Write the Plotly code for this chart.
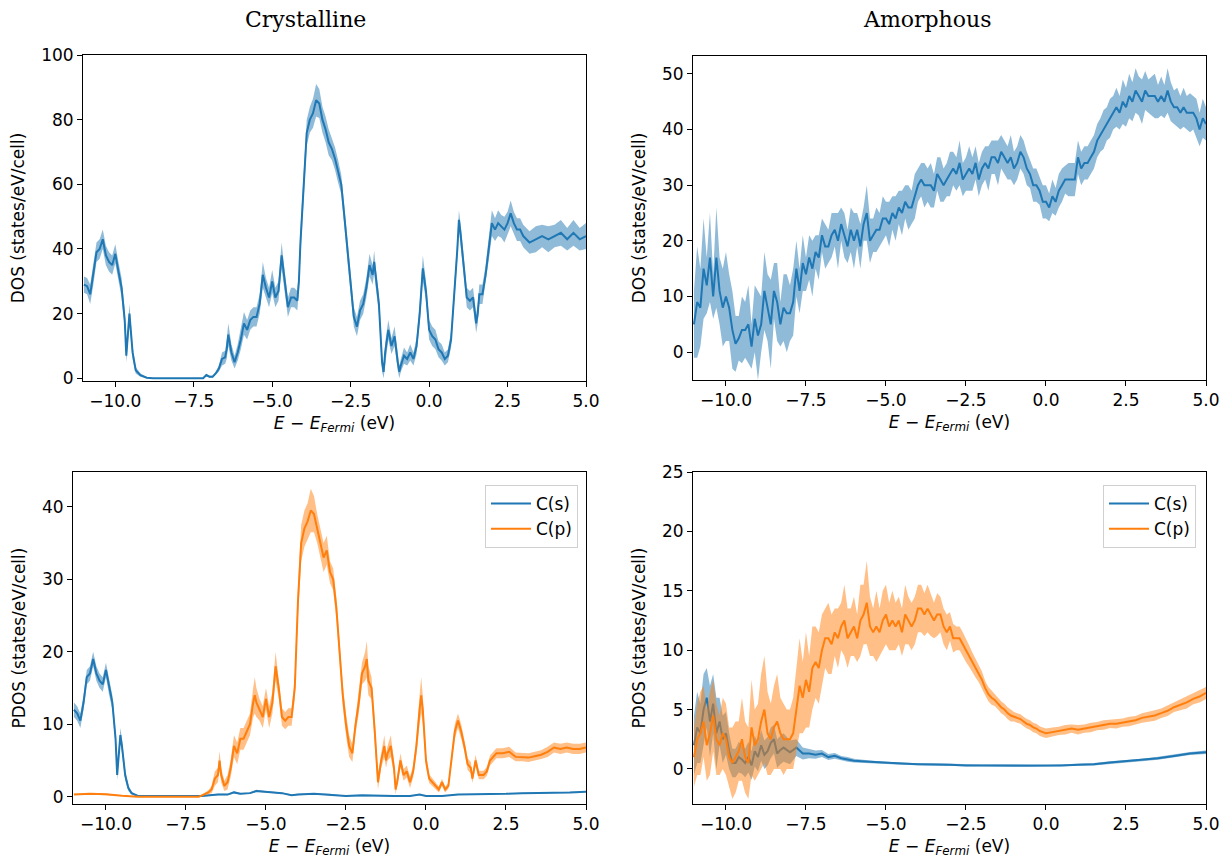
import plotly.graph_objects as go

# ---------------- data ----------------
# Crystalline total DOS
cry_x = [-11.0,-10.9,-10.8,-10.7,-10.6,-10.5,-10.4,-10.3,-10.2,-10.1,
         -10.0,-9.9,-9.8,-9.7,-9.65,-9.55,-9.45,-9.35,-9.2,-9.0,
         -8.8,-7.2,-7.1,-7.0,-6.9,-6.8,-6.7,-6.6,-6.5,-6.45,
         -6.4,-6.3,-6.2,-6.1,-6.0,-5.9,-5.8,-5.7,-5.6,-5.5,
         -5.4,-5.3,-5.2,-5.1,-5.0,-4.9,-4.8,-4.7,-4.6,-4.5,
         -4.4,-4.3,-4.2,-4.15,-4.1,-4.0,-3.9,-3.8,-3.7,-3.6,
         -3.5,-3.4,-3.3,-3.2,-3.1,-3.0,-2.9,-2.8,-2.7,-2.6,
         -2.5,-2.4,-2.3,-2.2,-2.1,-2.0,-1.9,-1.8,-1.75,-1.7,
         -1.6,-1.5,-1.45,-1.4,-1.3,-1.2,-1.1,-1.0,-0.95,-0.9,
         -0.8,-0.7,-0.6,-0.5,-0.4,-0.3,-0.2,-0.1,0.0,0.1,
         0.2,0.3,0.4,0.5,0.6,0.7,0.8,0.9,0.95,1.0,
         1.1,1.2,1.3,1.4,1.5,1.55,1.6,1.7,1.8,1.9,
         2.0,2.1,2.2,2.3,2.4,2.5,2.6,2.7,2.8,2.9,
         3.0,3.2,3.4,3.6,3.8,4.0,4.2,4.4,4.6,4.8,
         5.0]
cry_dos = [29,28.5,26,32,39,40,43,38,36,35,
           38.5,33,28,18,7,20,8,2.5,1,0.2,
           0,0,1,0.5,0.5,1.5,3,6,6.5,9,
           13.5,8,5,8,12,17,15,18,19,19,
           23,32,28,25,30,25,27,38,30,22,
           25,25,24,30,42,60,76,80,82,86,
           85,80,77,73,71,68,64,60,50,39,
           28,19,16,21,23,28,35,32,36,31,
           23,5,2,8,15,10,13,5,2,4,
           7,6,8,6,10,20,34,27,15,13,
           12,9,8,6,7,12,25,40,49,45,
           35,25,24,25,17,20,26,26,32,40,
           48,46,48,47,46,48,51,48,46,46,
           44,42,43,44,43,44,45,43,45,43,
           44]
cry_dos_err = [2.5,2.5,3,3,3,3,3,3,3,3,
               3,3,3,3,2,3,2,1,0.5,0.2,
               0,0,0.3,0.3,0.3,0.5,1,2,2,3,
               3.5,2.5,2,2.5,3,3.5,3,3,3,3,
               3,4,3,3,3.5,3,3,4,3,3,
               3,3,3,3,4,4,4,4,4.5,5,
               4.5,4,4,4,3.5,3.5,3.5,3,3,3,
               3,3,3,3,3,3,3.5,3,3.5,3,
               3,3,2,3,3,2.5,3,2.5,2,2,
               2.5,2,2.5,2,2.5,3,4,3,3,3,
               3,2.5,2.5,2,2,2.5,3,3,3,3,
               3,3,3,3,3,3,3,3,3,3.5,
               4,3.5,4,3.5,4,3.5,4,3.5,3.5,3.5,
               3.5,3.5,4,3.5,4,3.5,4,3.5,4,3.5,
               4]

# Amorphous total DOS (E from -11.0 to 5.0, step 0.1)
amo_dos = [5,9,8,15,12,17,10,17,11,8,
           10,8,4,1.5,2.5,4,4,5,1,6,
           3,5,11,8,5,11,9,5,8,7,
           7,9,15,11,16,14,17,15,18,17,
           21,19,19,21,22,20,23,21,19,22,
           20,22,19,23,25,20,21,22,22,24,
           24,23,25,24,26,25,27,26,26,28,
           30,31,30,30,30,29,32,31,30,31,
           32,33,32,34,31,32,33,32,34,31,
           33,34,33,35,35,34,36,35,34,35,
           33,34,36,35,33,32,30,30,29,27,
           27,26,28,27,29,30,31,31,31,31,
           35,33,34,34,35,36,38,39,40,41,
           42,43,44,43,45,44,46,45,47,46,
           45,47,46,46,46,45,46,45,47,45,
           44,44,43,44,43,43,43,42,40,42,
           41]
amo_dos_err = [6,10,7,9,5,8,4,9,6,7,
               8,6,7,5,4,6,5,7,4,6,
               8,5,7,6,8,5,7,4,6,7,
               5,6,5,4,5,3,4,5,3,4,
               3,4,3,4,3,5,3,4,3,4,
               5,3,4,3,5,4,3,4,3,4,
               3,4,3,4,3,4,3,4,3,4,
               3,3,4,3,4,3,3,4,3,3,
               4,3,3,4,3,3,4,3,3,3,
               3,3,4,3,3,4,3,3,3,4,
               3,3,3,3,3,2.5,3,3,2.5,3,
               3,2.5,3,2.5,3,3,2.5,3,3,3,
               3,3,3,3,3,3,3,3,3.5,3,
               3.5,3,3.5,3,4,3.5,4,3.5,4,3.5,
               4,3.5,3,3.5,4,3,3.5,3,4,3.5,
               3,3.5,3,3.5,3,3.5,3,3.5,3,3.5,
               3]

# Crystalline PDOS, C(s)
cry_s_x = [-11.0,-10.9,-10.8,-10.7,-10.6,-10.5,-10.4,-10.3,-10.2,-10.1,
           -10.0,-9.9,-9.8,-9.7,-9.65,-9.55,-9.5,-9.4,-9.3,-9.2,
           -9.0,-7.0,-6.8,-6.5,-6.2,-6.0,-5.8,-5.5,-5.3,-5.0,
           -4.8,-4.5,-4.2,-4.0,-3.5,-3.0,-2.5,-2.0,-1.5,-1.0,
           -0.5,-0.2,0.0,0.5,1.0,1.5,2.0,2.5,3.0,3.5,
           4.0,4.5,5.0]
cry_s = [12,11.5,10.5,13,16.5,17,19,17,16,15.5,
         17.5,15,13,8,3,8.5,7,3,1.2,0.5,
         0.1,0.1,0.2,0.3,0.3,0.6,0.4,0.5,0.8,0.7,
         0.6,0.5,0.2,0.3,0.4,0.3,0.1,0.2,0.1,0.1,
         0.1,0.3,0.1,0.1,0.3,0.3,0.4,0.4,0.5,0.5,
         0.6,0.6,0.7]
cry_s_err = [1,1,1,1,1,1,1,1,1,1,
             1,1,1,1,0.7,1,1,0.7,0.4,0.2,
             0.05,0.05,0.1,0.1,0.1,0.15,0.1,0.1,0.15,0.1,
             0.1,0.1,0.1,0.1,0.1,0.1,0.05,0.05,0.05,0.05,
             0.05,0.05,0.05,0.05,0.05,0.05,0.05,0.05,0.05,0.05,
             0.05,0.05,0.05]

# Crystalline PDOS, C(p)
cry_p_x = [-11.0,-10.5,-10.0,-9.7,-9.5,-9.0,-7.1,-7.0,-6.9,-6.8,
           -6.7,-6.6,-6.5,-6.45,-6.4,-6.3,-6.2,-6.1,-6.0,-5.9,
           -5.8,-5.7,-5.6,-5.5,-5.4,-5.35,-5.3,-5.2,-5.1,-5.0,
           -4.9,-4.8,-4.7,-4.6,-4.5,-4.4,-4.3,-4.2,-4.1,-4.0,
           -3.9,-3.8,-3.7,-3.6,-3.5,-3.4,-3.3,-3.2,-3.1,-3.0,
           -2.9,-2.8,-2.7,-2.6,-2.5,-2.4,-2.3,-2.2,-2.1,-2.0,
           -1.9,-1.85,-1.8,-1.7,-1.6,-1.5,-1.4,-1.3,-1.25,-1.2,
           -1.1,-1.0,-0.95,-0.9,-0.8,-0.7,-0.6,-0.5,-0.4,-0.3,
           -0.2,-0.15,-0.1,0.0,0.1,0.2,0.3,0.4,0.5,0.6,
           0.7,0.8,0.9,1.0,1.1,1.2,1.3,1.4,1.45,1.55,
           1.65,1.8,1.9,2.0,2.2,2.4,2.6,2.8,3.0,3.2,
           3.4,3.6,3.8,4.0,4.2,4.4,4.6,4.8,5.0]
cry_p = [0.3,0.4,0.35,0.2,0.15,0,0,0.2,0.4,0.6,
         1.0,2.5,3,5,3,1.5,2,4,7,6,
         8,8,9,10,13,14,13,12,11,13.5,
         11,13,18,15,11,10.5,11,11,15,27,
         35,37,38,39.5,39,37,35,33,34,31,
         30,26,20,14,10,7,6,10,13,17,
         18,19,16,15,9,2,5,7,5,6,
         7,4,1,2,5,3,3.5,2,3.5,7,
         12,14,12,5,2.5,2,1.5,1,2,1,
         1.5,5,9,10.5,9,7,4.5,4,2.5,5,
         3,3,3.5,5,6,6,6.2,5.5,5.5,5.4,
         5.6,5.8,6.2,6.8,6.6,6.8,6.6,6.6,6.8]
cry_p_err = [0.1,0.1,0.1,0.05,0.05,0,0,0.1,0.2,0.3,
             0.5,1,1,1.3,1,0.7,1,1.2,1.5,1.5,
             1.5,1.5,1.5,1.5,2,2.5,2,1.5,1.5,1.5,
             1.5,1.5,2,1.5,1.2,1.2,1.2,1.2,1.5,2,
             2.5,2.5,2.5,3,2.5,2,2,2,2,1.5,
             1.5,1.5,1.5,1.5,1.5,1.5,1.2,1.2,1.5,1.5,
             2,2.5,2,1.5,1.5,1,1,1.5,1,1,
             1.5,1,0.7,0.8,1,0.8,0.8,0.8,0.8,1.2,
             2,2.5,2,1,0.6,0.5,0.4,0.4,0.5,0.4,
             0.4,0.8,1,1,1,0.8,0.8,0.8,0.6,0.8,
             0.6,0.6,0.6,0.7,0.7,0.7,0.7,0.6,0.6,0.6,
             0.6,0.6,0.7,0.7,0.7,0.7,0.7,0.7,0.7]

# Amorphous PDOS, C(s)
amo_s_x = [-11.0,-10.9,-10.8,-10.7,-10.6,-10.5,-10.4,-10.3,-10.2,-10.1,
           -10.0,-9.9,-9.8,-9.7,-9.6,-9.5,-9.4,-9.3,-9.2,-9.1,
           -9.0,-8.9,-8.8,-8.7,-8.6,-8.5,-8.4,-8.3,-8.2,-8.0,
           -7.8,-7.6,-7.4,-7.2,-7.0,-6.8,-6.6,-6.4,-6.2,-6.0,
           -5.5,-5.0,-4.5,-4.0,-3.5,-3.0,-2.5,-2.0,-1.5,-1.0,
           -0.5,0.0,0.5,1.0,1.5,2.0,2.5,3.0,3.5,4.0,
           4.5,5.0]
amo_s = [2,3.5,3,5,6,4,5.5,3,4,2.5,
         3,1.5,0.5,0.5,1,0.8,0.5,1,0.3,1.5,
         1,2,1.2,1.5,2.2,2.5,1.3,1.6,1.8,1.4,
         1.8,1.3,1.3,1.2,1.3,1.0,1.1,0.9,0.8,0.7,
         0.6,0.5,0.45,0.4,0.4,0.35,0.3,0.3,0.3,0.25,
         0.25,0.25,0.3,0.35,0.4,0.55,0.65,0.75,0.9,1.1,
         1.3,1.4]
amo_s_err = [2.5,3,2.5,3,2.5,3,2.5,3,2,2,
             1.8,1.5,1.2,1.2,1.3,1.2,1.2,1.3,1.2,1.3,
             1.2,1.3,1.2,1.2,1.3,1.2,1.2,1.2,1.2,1,
             0.7,0.5,0.4,0.35,0.3,0.25,0.25,0.2,0.2,0.15,
             0.12,0.1,0.1,0.08,0.08,0.08,0.08,0.08,0.08,0.08,
             0.08,0.08,0.08,0.08,0.1,0.1,0.1,0.1,0.12,0.12,
             0.12,0.15]

# Amorphous PDOS, C(p): -11.0..0.0 step 0.1, then 0.2..5.0 step 0.2
amo_p_x_tail = [0.2,0.4,0.6,0.8,1.0,1.2,1.4,1.6,1.8,2.0,
                2.2,2.4,2.6,2.8,3.0,3.2,3.4,3.6,3.8,4.0,
                4.2,4.4,4.6,4.8,5.0]
amo_p = [1,2.5,3,4,2,3,4.5,2.5,2,3,
         2.5,1,0.5,1,1.5,2.5,1,0.5,3.5,2,
         2.5,4,5,3,2.5,3.5,4,3,2.5,2.5,
         2.5,3,5,7,6,7.5,6.5,8.5,9,8.5,
         10,11,11,10.5,11.5,11,12,12.5,11,11.5,
         12,11,12.5,13,14,12,11.5,12,11.5,12.5,
         13,12,12.5,12,12.5,11.5,13,12.5,12,12.5,
         13.5,13.5,13,13.5,13,12.5,13,13,12,11.5,
         12,11,11,11,10.5,10,9.5,9,8.5,8,
         7.5,6.8,6.3,6,5.8,5.5,5.2,5,4.7,4.5,
         4.4,4.3,4.2,4.0,3.8,3.7,3.5,3.4,3.2,3.1,
         3.0,
         3.1,3.2,3.3,3.4,3.3,3.4,3.5,3.6,3.7,3.8,
         3.8,3.9,4.0,4.1,4.3,4.4,4.5,4.7,4.9,5.2,
         5.4,5.6,5.9,6.1,6.4]
amo_p_err = [2.5,3,3.5,3,3,3.5,3,3,2.5,3,
             3,2.5,3,3,2.5,3.5,3,3,4,3,
             3,4,4.5,3.5,3,3.5,4,3,3,2.5,
             2.5,3,3.5,4,3,4,3,3.5,3,3,
             3,2.5,3,2.5,2,2.5,2,3,2.5,2,
             2.5,2,3,2.5,3.5,2.5,2,3,2,2.5,
             2.5,2,2.5,2,2,2,2.5,2,2,2,
             2,2,1.8,2,1.8,1.5,1.8,1.5,1.5,1.5,
             1.2,1.2,1,1,1,1,0.9,0.8,0.8,0.7,
             0.7,0.6,0.6,0.6,0.5,0.5,0.5,0.5,0.5,0.5,
             0.4,0.4,0.4,0.4,0.4,0.4,0.4,0.4,0.4,0.4,
             0.4,
             0.4,0.35,0.4,0.35,0.4,0.35,0.4,0.35,0.4,0.35,
             0.4,0.35,0.4,0.35,0.4,0.4,0.45,0.4,0.45,0.4,
             0.45,0.5,0.45,0.5,0.5]

x_ticks = [-10, -7.5, -5, -2.5, 0, 2.5, 5]

# ---------------- figure ----------------
C0, C1 = '#1f77b4', '#ff7f0e'
F0, F1 = 'rgba(31,119,180,0.5)', 'rgba(255,127,14,0.5)'

amo_x = [round(-11.0 + 0.1 * i, 2) for i in range(len(amo_dos))]
amo_p_x = [round(-11.0 + 0.1 * i, 2) for i in range(111)] + amo_p_x_tail

fig = go.Figure()


def add(x, y, e, color, fill, ax, name=None, legend=None):
    n = min(len(x), len(y), len(e))
    x, y, e = list(x[:n]), list(y[:n]), list(e[:n])
    up = [a + b for a, b in zip(y, e)]
    lo = [a - b for a, b in zip(y, e)]
    xa = 'x' if ax == 1 else 'x%d' % ax
    ya = 'y' if ax == 1 else 'y%d' % ax
    fig.add_trace(go.Scatter(x=x + x[::-1], y=up + lo[::-1], fill='toself',
                             fillcolor=fill, line=dict(width=0), mode='lines',
                             hoverinfo='skip', showlegend=False,
                             xaxis=xa, yaxis=ya))
    kw = {}
    if legend:
        kw['legend'] = legend
    fig.add_trace(go.Scatter(x=x, y=y, mode='lines', line=dict(color=color, width=2),
                             name=name, showlegend=name is not None,
                             xaxis=xa, yaxis=ya, **kw))


add(cry_x, cry_dos, cry_dos_err, C0, F0, 1)
add(amo_x, amo_dos, amo_dos_err, C0, F0, 2)
add(cry_s_x, cry_s, cry_s_err, C0, F0, 3, 'C(s)', 'legend')
add(cry_p_x, cry_p, cry_p_err, C1, F1, 3, 'C(p)', 'legend')
add(amo_s_x, amo_s, amo_s_err, C0, F0, 4, 'C(s)', 'legend2')
add(amo_p_x, amo_p, amo_p_err, C1, F1, 4, 'C(p)', 'legend2')

W, H = 1230, 860
FS = 17
tickfont = dict(family='DejaVu Sans', size=FS, color='black')
titlefont = dict(family='DejaVu Sans', size=FS, color='black')
xtitle = '<i>E</i> − <i>E</i><sub><i>Fermi</i></sub> (eV)'


def xax(l, r, anchor):
    return dict(domain=[l / W, r / W], range=[-11.03, 5], anchor=anchor,
                automargin=False,
                tickvals=x_ticks, tickformat='.1f', showline=True, linecolor='black',
                linewidth=1, mirror=True, ticks='outside', ticklen=5, tickwidth=1,
                tickcolor='black', showgrid=False, zeroline=False, tickfont=tickfont,
                title=dict(text=xtitle, font=titlefont, standoff=6))


def yax(t, b, rng, dt, anchor, title):
    return dict(domain=[1 - b / H, 1 - t / H], range=rng, anchor=anchor, dtick=dt,
                automargin=False,
                tick0=0, showline=True, linecolor='black', linewidth=1, mirror=True,
                ticks='outside', ticklen=5, tickwidth=1, tickcolor='black',
                showgrid=False, zeroline=False, tickfont=tickfont,
                title=dict(text=title, font=titlefont, standoff=12))


legfont = dict(family='DejaVu Sans', size=FS, color='black')

fig.update_layout(
    width=W, height=H, margin=dict(l=0, r=0, t=0, b=0, pad=0, autoexpand=False),
    paper_bgcolor='white', plot_bgcolor='white',
    xaxis=xax(83, 586, 'y'),
    yaxis=yax(55, 381, [-0.83, 100], 20, 'x', 'DOS (states/eV/cell)'),
    xaxis2=xax(693, 1206, 'y2'),
    yaxis2=yax(56, 380, [-5.0, 53.2], 10, 'x2', 'DOS (states/eV/cell)'),
    xaxis3=xax(73, 586, 'y3'),
    yaxis3=yax(472, 804, [-1.0, 44.8], 10, 'x3', 'PDOS (states/eV/cell)'),
    xaxis4=xax(693, 1206, 'y4'),
    yaxis4=yax(472, 804, [-2.95, 25], 5, 'x4', 'PDOS (states/eV/cell)'),
    legend=dict(x=578 / W, y=1 - 485 / H, xanchor='right', yanchor='top',
                bgcolor='rgba(255,255,255,0.8)', bordercolor='#d0d0d0', borderwidth=1,
                font=legfont, itemwidth=40, tracegroupgap=4),
    legend2=dict(x=1196 / W, y=1 - 485 / H, xanchor='right', yanchor='top',
                 bgcolor='rgba(255,255,255,0.8)', bordercolor='#d0d0d0', borderwidth=1,
                 font=legfont, itemwidth=40, tracegroupgap=4),
    showlegend=True,
    annotations=[
        dict(text='Crystalline', x=305 / W, y=1 - 19 / H, xref='paper',
             yref='paper', showarrow=False, xanchor='center', yanchor='middle',
             font=dict(family='DejaVu Serif', size=22, color='black')),
        dict(text='Amorphous', x=927 / W, y=1 - 19 / H, xref='paper',
             yref='paper', showarrow=False, xanchor='center', yanchor='middle',
             font=dict(family='DejaVu Serif', size=22, color='black')),
    ],
)

fig.write_html('out.html',
               config={'displayModeBar': False},
               post_script="document.body.style.margin='0px';"
                           "document.body.style.overflow='hidden';")
